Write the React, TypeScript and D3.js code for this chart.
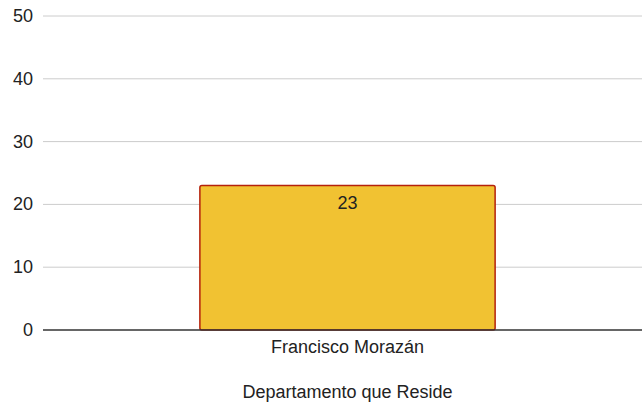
import * as d3 from "d3";

const categories = ["Francisco Morazán"];
const values = [23];
const yTicks = [0, 10, 20, 30, 40, 50];
const xTitle = "Departamento que Reside";

const W = 642;
const H = 404;
const margin = { top: 16, right: -10, bottom: 74, left: 43 };

export default function App() {
  const innerW = W - margin.left - margin.right;
  const innerH = H - margin.top - margin.bottom;
  const x = d3.scaleBand<string>().domain(categories).range([0, innerW]).paddingInner(0.347).paddingOuter(0.347);
  const y = d3.scaleLinear().domain([0, 50]).range([innerH, 0]);
  const font = "'Liberation Sans', Arial, sans-serif";
  const fs = 18;

  return (
    <svg width={W} height={H} style={{ position: "absolute", left: 0, top: 0, background: "#fff" }}>
      <g transform={`translate(${margin.left},${margin.top})`}>
        {yTicks.map((t) => (
          <g key={t}>
            {t !== 0 && <line x1={0} x2={innerW} y1={y(t)} y2={y(t)} stroke="#cccccc" strokeWidth={1} />}
            <text x={-10} y={y(t)} dy="0.33em" textAnchor="end" fontFamily={font} fontSize={fs} fill="#222">
              {t}
            </text>
          </g>
        ))}
        {categories.map((c, i) => (
          <g key={c}>
            <rect
              x={x(c)}
              y={y(values[i])}
              width={x.bandwidth()}
              height={innerH - y(values[i])}
              rx={2}
              fill="#f1c232"
              stroke="#b5210b"
              strokeWidth={1.5}
            />
            <text x={(x(c) ?? 0) + x.bandwidth() / 2} y={y(values[i]) + 23.5} textAnchor="middle" fontFamily={font} fontSize={fs} fill="#222">
              {values[i]}
            </text>
            <text x={(x(c) ?? 0) + x.bandwidth() / 2} y={innerH + 23} textAnchor="middle" fontFamily={font} fontSize={fs} fill="#222">
              {c}
            </text>
          </g>
        ))}
        <line x1={0} x2={innerW} y1={innerH} y2={innerH} stroke="#333" strokeWidth={1.5} />
        <text x={(x(categories[0]) ?? 0) + x.bandwidth() / 2} y={innerH + 68} textAnchor="middle" fontFamily={font} fontSize={fs} fill="#222">
          {xTitle}
        </text>
      </g>
    </svg>
  );
}
